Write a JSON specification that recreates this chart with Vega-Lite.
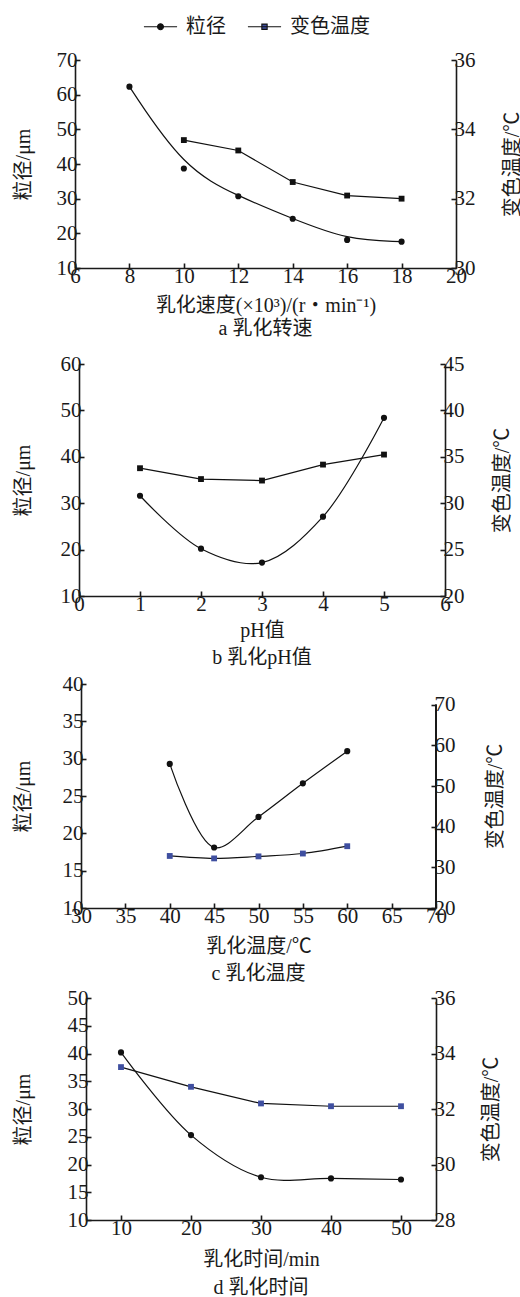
{
  "$schema": "https://vega.github.io/schema/vega-lite/v6.json",
  "background": "white",
  "padding": {"left": 12, "top": 9, "right": 0, "bottom": 0},
  "datasets": {
    "a_size": [{"x": 8, "v": 62.3}, {"x": 10, "v": 38.7}, {"x": 12, "v": 30.7}, {"x": 14, "v": 24.2}, {"x": 16, "v": 18.1}, {"x": 18, "v": 17.6}],
    "a_temp": [{"x": 10, "v": 33.69}, {"x": 12, "v": 33.39}, {"x": 14, "v": 32.48}, {"x": 16, "v": 32.09}, {"x": 18, "v": 32.0}],
    "b_size": [{"x": 1, "v": 31.6}, {"x": 2, "v": 20.2}, {"x": 3, "v": 17.2}, {"x": 4, "v": 27.1}, {"x": 5, "v": 48.4}],
    "b_temp": [{"x": 1, "v": 33.77}, {"x": 2, "v": 32.6}, {"x": 3, "v": 32.44}, {"x": 4, "v": 34.16}, {"x": 5, "v": 35.24}],
    "c_size": [{"x": 40, "v": 29.3}, {"x": 45, "v": 18.1}, {"x": 50, "v": 22.2}, {"x": 55, "v": 26.7}, {"x": 60, "v": 31.0}],
    "c_temp": [{"x": 40, "v": 32.8}, {"x": 45, "v": 32.2}, {"x": 50, "v": 32.7}, {"x": 55, "v": 33.4}, {"x": 60, "v": 35.2}],
    "d_size": [{"x": 10, "v": 40.2}, {"x": 20, "v": 25.3}, {"x": 30, "v": 17.7}, {"x": 40, "v": 17.5}, {"x": 50, "v": 17.3}],
    "d_temp": [{"x": 10, "v": 33.51}, {"x": 20, "v": 32.8}, {"x": 30, "v": 32.2}, {"x": 40, "v": 32.1}, {"x": 50, "v": 32.1}]
  },
  "config": {
    "view": {"stroke": null},
    "font": "Liberation Serif, Noto Sans CJK SC",
    "axis": {
      "grid": false,
      "labelFont": "Liberation Serif, Noto Sans CJK SC",
      "labelFontSize": 21,
      "labelColor": "#1a1a1a",
      "titleFont": "Liberation Serif, Noto Sans CJK SC",
      "titleFontSize": 20,
      "titleFontWeight": "normal",
      "titleColor": "#1a1a1a",
      "domainColor": "#1a1a1a",
      "domainWidth": 1.6,
      "tickColor": "#1a1a1a",
      "tickWidth": 1.6,
      "tickSize": -5,
      "labelOverlap": false,
      "labelFlush": false,
      "labelBound": false,
      "labelPadding": 3
    },
    "axisX": {"labelPadding": 2},
    "title": {"font": "Liberation Serif, Noto Sans CJK SC", "fontSize": 20, "fontWeight": "normal", "color": "#1a1a1a", "orient": "bottom", "anchor": "middle", "offset": 6}
  },
  "spacing": 3,
  "resolve": {
    "scale": {"fill": "independent", "stroke": "independent", "shape": "independent"},
    "legend": {"fill": "independent", "stroke": "independent", "shape": "independent"}
  },
  "vconcat": [
    {
      "spacing": 0,
      "resolve": {
        "scale": {"fill": "independent", "stroke": "independent", "shape": "independent"},
        "legend": {"fill": "independent", "stroke": "independent", "shape": "independent"}
      },
      "hconcat": [
        {"width": 1, "height": 1, "data": {"values": []}, "mark": "point"},
        {
          "width": 381, "height": 208,
          "title": {"text": "a 乳化转速", "subtitle": " ", "subtitleFontSize": 12, "subtitlePadding": 0, "offset": 4},
          "resolve": {"scale": {"y": "independent"}},
          "layer": [
            {
              "data": {"name": "a_size"},
              "encoding": {
                "x": {"field": "x", "type": "quantitative", "scale": {"domain": [6, 20]}, "axis": {"values": [6, 8, 10, 12, 14, 16, 18, 20], "title": "乳化速度(×10³)/(r・min⁻¹)", "titlePadding": 9}},
                "y": {"field": "v", "type": "quantitative", "scale": {"domain": [10, 70]}, "axis": {"values": [10, 20, 30, 40, 50, 60, 70], "title": "粒径/μm", "titlePadding": 23}}
              },
              "layer": [
                {"mark": {"type": "line", "interpolate": "basis", "color": "#111", "strokeWidth": 1.2}},
                {"mark": {"type": "point", "shape": "circle", "filled": true, "size": 38, "color": "#111", "opacity": 1}}
              ]
            },
            {
              "data": {"name": "a_temp"},
              "encoding": {
                "x": {"field": "x", "type": "quantitative"},
                "y": {"field": "v", "type": "quantitative", "scale": {"domain": [30, 36]}, "axis": {"orient": "right", "values": [30, 32, 34, 36], "title": "变色温度/℃", "titleAngle": -90, "titleBaseline": "top", "titlePadding": 27}}
              },
              "layer": [
                {"mark": {"type": "line", "interpolate": "linear", "color": "#111", "strokeWidth": 1.2}},
                {"mark": {"type": "point", "shape": "square", "filled": true, "size": 34, "color": "#111", "opacity": 1}}
              ]
            },
            {
              "data": {"values": []},
              "mark": {"type": "point", "filled": true, "strokeWidth": 1.2, "opacity": 1},
              "encoding": {
                "shape": {"field": "series", "type": "nominal", "scale": {"domain": ["粒径", "变色温度"], "range": ["M-1,0H1M0.18,0A0.18,0.18,0,1,1,-0.18,0A0.18,0.18,0,1,1,0.18,0Z", "M-1,0H1M-0.16,-0.16H0.16V0.16H-0.16Z"]},
                  "legend": {"orient": "none", "legendX": 68, "legendY": -51, "direction": "horizontal", "title": null, "labelFont": "Liberation Serif, Noto Sans CJK SC", "labelFontSize": 20, "labelColor": "#1a1a1a", "symbolSize": 1100, "symbolStrokeWidth": 1.1, "symbolOpacity": 1, "labelOffset": 8, "columnPadding": 19, "padding": 0}},
                "fill": {"field": "series", "type": "nominal", "scale": {"domain": ["粒径", "变色温度"], "range": ["#111111", "#3F4FA0"]},
                  "legend": {"orient": "none", "legendX": 68, "legendY": -51, "direction": "horizontal", "title": null, "labelFont": "Liberation Serif, Noto Sans CJK SC", "labelFontSize": 20, "labelColor": "#1a1a1a", "symbolSize": 1100, "symbolStrokeWidth": 1.1, "symbolOpacity": 1, "labelOffset": 8, "columnPadding": 19, "padding": 0}},
                "stroke": {"field": "series", "type": "nominal", "scale": {"domain": ["粒径", "变色温度"], "range": ["#111111", "#111111"]},
                  "legend": {"orient": "none", "legendX": 68, "legendY": -51, "direction": "horizontal", "title": null, "labelFont": "Liberation Serif, Noto Sans CJK SC", "labelFontSize": 20, "labelColor": "#1a1a1a", "symbolSize": 1100, "symbolStrokeWidth": 1.1, "symbolOpacity": 1, "labelOffset": 8, "columnPadding": 19, "padding": 0}}
              }
            }
          ]
        }
      ]
    },
    {
      "spacing": 0,
      "hconcat": [
        {"width": 1, "height": 1, "data": {"values": []}, "mark": "point"},
        {
          "width": 366, "height": 232,
          "title": {"text": "b 乳化pH值", "subtitle": " ", "subtitleFontSize": 2, "subtitlePadding": 0, "offset": 8},
          "resolve": {"scale": {"y": "independent"}},
          "layer": [
            {
              "data": {"name": "b_size"},
              "encoding": {
                "x": {"field": "x", "type": "quantitative", "scale": {"domain": [0, 6]}, "axis": {"values": [0, 1, 2, 3, 4, 5, 6], "format": "d", "title": "pH值", "titlePadding": 6}},
                "y": {"field": "v", "type": "quantitative", "scale": {"domain": [10, 60]}, "axis": {"values": [10, 20, 30, 40, 50, 60], "title": "粒径/μm", "titlePadding": 27}}
              },
              "layer": [
                {"mark": {"type": "line", "interpolate": "catmull-rom", "color": "#111", "strokeWidth": 1.2}},
                {"mark": {"type": "point", "shape": "circle", "filled": true, "size": 38, "color": "#111", "opacity": 1}}
              ]
            },
            {
              "data": {"name": "b_temp"},
              "encoding": {
                "x": {"field": "x", "type": "quantitative"},
                "y": {"field": "v", "type": "quantitative", "scale": {"domain": [20, 45]}, "axis": {"orient": "right", "values": [20, 25, 30, 35, 40, 45], "title": "变色温度/℃", "titleAngle": -90, "titleBaseline": "top", "titlePadding": 28}}
              },
              "layer": [
                {"mark": {"type": "line", "interpolate": "linear", "color": "#111", "strokeWidth": 1.2}},
                {"mark": {"type": "point", "shape": "square", "filled": true, "size": 34, "color": "#111", "opacity": 1}}
              ]
            }
          ]
        }
      ]
    },
    {
      "spacing": 0,
      "hconcat": [
        {"width": 1, "height": 1, "data": {"values": []}, "mark": "point"},
        {
          "width": 355, "height": 224,
          "title": {"text": "c 乳化温度", "offset": 8},
          "resolve": {"scale": {"y": "independent"}},
          "layer": [
            {
              "data": {"name": "c_size"},
              "encoding": {
                "x": {"field": "x", "type": "quantitative", "scale": {"domain": [30, 70]}, "axis": {"values": [30, 35, 40, 45, 50, 55, 60, 65, 70], "title": "乳化温度/℃", "titlePadding": 10}},
                "y": {"field": "v", "type": "quantitative", "scale": {"domain": [10, 40]}, "axis": {"values": [10, 15, 20, 25, 30, 35, 40], "title": "粒径/μm", "titlePadding": 29}}
              },
              "layer": [
                {"mark": {"type": "line", "interpolate": "catmull-rom", "color": "#111", "strokeWidth": 1.2}},
                {"mark": {"type": "point", "shape": "circle", "filled": true, "size": 38, "color": "#111", "opacity": 1}}
              ]
            },
            {
              "data": {"name": "c_temp"},
              "encoding": {
                "x": {"field": "x", "type": "quantitative"},
                "y": {"field": "v", "type": "quantitative", "scale": {"domain": [20, 75.1]}, "axis": {"orient": "right", "values": [20, 30, 40, 50, 60, 70], "domain": false, "title": "变色温度/℃", "titleAngle": -90, "titleBaseline": "top", "titlePadding": 30}}
              },
              "layer": [
                {"mark": {"type": "rule", "color": "#1a1a1a", "strokeWidth": 1.6}, "encoding": {"x": {"datum": 70, "type": "quantitative"}, "y": {"datum": 20, "type": "quantitative"}, "y2": {"datum": 70}}},
                {"mark": {"type": "line", "interpolate": "monotone", "color": "#111", "strokeWidth": 1.2}},
                {"mark": {"type": "point", "shape": "square", "filled": true, "size": 34, "color": "#3F4FA0", "opacity": 1}}
              ]
            }
          ]
        }
      ]
    },
    {
      "spacing": 0,
      "hconcat": [
        {"width": 1, "height": 1, "data": {"values": []}, "mark": "point"},
        {
          "width": 350, "height": 222,
          "title": {"text": "d 乳化时间", "offset": 9},
          "resolve": {"scale": {"y": "independent"}},
          "layer": [
            {
              "data": {"name": "d_size"},
              "encoding": {
                "x": {"field": "x", "type": "quantitative", "scale": {"domain": [5, 55]}, "axis": {"values": [10, 20, 30, 40, 50], "title": "乳化时间/min", "titlePadding": 11}},
                "y": {"field": "v", "type": "quantitative", "scale": {"domain": [10, 50]}, "axis": {"values": [10, 15, 20, 25, 30, 35, 40, 45, 50], "title": "粒径/μm", "titlePadding": 34}}
              },
              "layer": [
                {"mark": {"type": "line", "interpolate": "catmull-rom", "color": "#111", "strokeWidth": 1.2}},
                {"mark": {"type": "point", "shape": "circle", "filled": true, "size": 38, "color": "#111", "opacity": 1}}
              ]
            },
            {
              "data": {"name": "d_temp"},
              "encoding": {
                "x": {"field": "x", "type": "quantitative"},
                "y": {"field": "v", "type": "quantitative", "scale": {"domain": [28, 36]}, "axis": {"orient": "right", "values": [28, 30, 32, 34, 36], "title": "变色温度/℃", "titleAngle": -90, "titleBaseline": "top", "titlePadding": 26}}
              },
              "layer": [
                {"mark": {"type": "line", "interpolate": "linear", "color": "#111", "strokeWidth": 1.2}},
                {"mark": {"type": "point", "shape": "square", "filled": true, "size": 34, "color": "#3F4FA0", "opacity": 1}}
              ]
            }
          ]
        }
      ]
    }
  ]
}
